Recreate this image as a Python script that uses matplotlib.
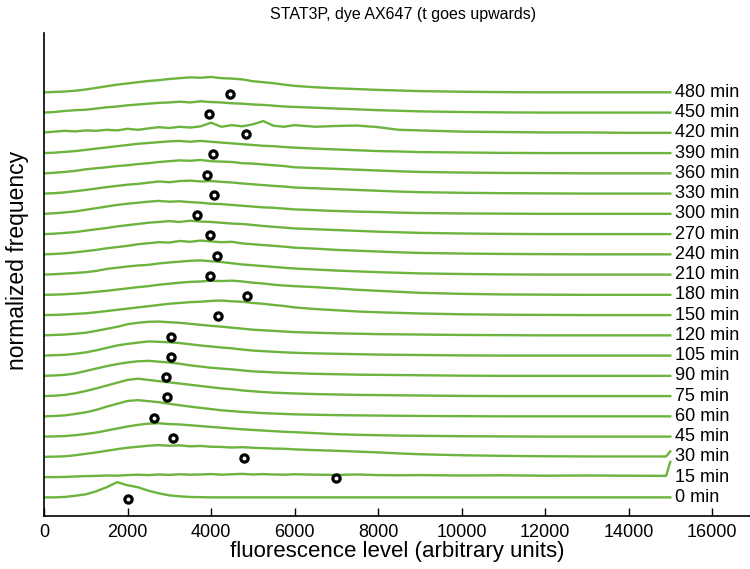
import matplotlib
matplotlib.use("Agg")
import matplotlib.pyplot as plt
import numpy as np

plt.rcParams['font.family'] = ['Liberation Sans', 'DejaVu Sans']

# fluorescence grid (arbitrary units)
x_grid = [0, 250, 500, 750, 1000, 1250, 1500, 1750, 2000, 2250, 2500, 2750, 3000,
          3250, 3500, 3750, 4000, 4250, 4500, 4750, 5000, 5250, 5500, 5750, 6000,
          6500, 7000, 7500, 8000, 8500, 9000, 10000, 11000, 12000, 13000, 14000,
          14900, 15000]

time_labels = ['0 min', '15 min', '30 min', '45 min', '60 min', '75 min', '90 min',
               '105 min', '120 min', '150 min', '180 min', '210 min', '240 min',
               '270 min', '300 min', '330 min', '360 min', '390 min', '420 min',
               '450 min', '480 min']

# mean fluorescence level per time point (black circles)
means = [2000, 7000, 4790, 3090, 2640, 2950, 2920, 3040, 3040, 4170, 4860, 3980,
         4140, 3980, 3660, 4070, 3900, 4050, 4840, 3950, 4450]

h_0 = [0, 0, 0.02, 0.08, 0.15, 0.3, 0.5, 0.75, 0.6, 0.5, 0.33, 0.2, 0.1, 0.05, 0.02,
       0.01, 0, 0, 0, 0, 0, 0, 0, 0, 0, 0, 0, 0, 0, 0, 0, 0, 0, 0, 0, 0, 0, 0]
h_15 = [0, 0, 0.01, 0.03, 0.05, 0.06, 0.08, 0.07, 0.1, 0.12, 0.1, 0.13, 0.11, 0.14,
        0.12, 0.13, 0.15, 0.12, 0.14, 0.16, 0.13, 0.15, 0.13, 0.12, 0.14, 0.12, 0.11,
        0.13, 0.1, 0.09, 0.1, 0.08, 0.09, 0.07, 0.08, 0.07, 0.06, 0.75]
h_30 = [0, 0.01, 0.03, 0.08, 0.15, 0.22, 0.3, 0.38, 0.45, 0.5, 0.55, 0.58, 0.55, 0.57,
        0.52, 0.54, 0.5, 0.49, 0.46, 0.48, 0.45, 0.43, 0.41, 0.4, 0.37, 0.33, 0.3, 0.26,
        0.22, 0.17, 0.13, 0.08, 0.05, 0.03, 0.02, 0.02, 0.02, 0.27]
h_45 = [0, 0.01, 0.03, 0.07, 0.13, 0.2, 0.3, 0.4, 0.5, 0.58, 0.64, 0.66, 0.62, 0.6,
        0.56, 0.52, 0.48, 0.44, 0.4, 0.36, 0.33, 0.3, 0.27, 0.24, 0.22, 0.17, 0.12,
        0.09, 0.07, 0.05, 0.04, 0.02, 0.01, 0, 0, 0, 0, 0]
h_60 = [0, 0.02, 0.05, 0.12, 0.2, 0.32, 0.48, 0.62, 0.76, 0.8, 0.75, 0.7, 0.62, 0.55,
        0.48, 0.42, 0.36, 0.3, 0.26, 0.22, 0.19, 0.16, 0.14, 0.12, 0.1, 0.08, 0.06,
        0.05, 0.04, 0.03, 0.02, 0.01, 0, 0, 0, 0, 0, 0]
h_75 = [0, 0.02, 0.06, 0.14, 0.25, 0.38, 0.52, 0.66, 0.8, 0.86, 0.8, 0.74, 0.68, 0.62,
        0.56, 0.5, 0.44, 0.38, 0.34, 0.28, 0.24, 0.2, 0.17, 0.15, 0.13, 0.1, 0.08, 0.06,
        0.05, 0.04, 0.03, 0.01, 0, 0, 0, 0, 0, 0]
h_90 = [0, 0.02, 0.05, 0.12, 0.24, 0.36, 0.48, 0.58, 0.66, 0.72, 0.74, 0.7, 0.66, 0.6,
        0.52, 0.46, 0.4, 0.36, 0.32, 0.27, 0.22, 0.2, 0.17, 0.15, 0.13, 0.1, 0.08, 0.06,
        0.05, 0.04, 0.03, 0.01, 0, 0, 0, 0, 0, 0]
h_105 = [0, 0.02, 0.04, 0.09, 0.16, 0.26, 0.38, 0.5, 0.58, 0.64, 0.7, 0.68, 0.66, 0.62,
         0.56, 0.5, 0.45, 0.4, 0.36, 0.3, 0.25, 0.22, 0.19, 0.16, 0.14, 0.11, 0.09,
         0.07, 0.05, 0.04, 0.03, 0.01, 0, 0, 0, 0, 0, 0]
h_120 = [0, 0.02, 0.04, 0.08, 0.13, 0.22, 0.32, 0.42, 0.55, 0.62, 0.67, 0.68, 0.65,
         0.62, 0.57, 0.52, 0.47, 0.43, 0.38, 0.33, 0.28, 0.25, 0.22, 0.19, 0.16, 0.13,
         0.1, 0.08, 0.06, 0.05, 0.04, 0.02, 0.01, 0, 0, 0, 0, 0]
h_150 = [0, 0.01, 0.03, 0.06, 0.09, 0.14, 0.2, 0.26, 0.32, 0.38, 0.44, 0.5, 0.56, 0.6,
         0.64, 0.66, 0.7, 0.72, 0.68, 0.66, 0.6, 0.56, 0.5, 0.45, 0.38, 0.3, 0.24, 0.18,
         0.14, 0.11, 0.08, 0.04, 0.02, 0.01, 0, 0, 0, 0]
h_180 = [0, 0.01, 0.03, 0.06, 0.1, 0.15, 0.2, 0.26, 0.32, 0.38, 0.43, 0.5, 0.55, 0.6,
         0.64, 0.66, 0.7, 0.68, 0.7, 0.66, 0.6, 0.56, 0.5, 0.46, 0.43, 0.38, 0.32, 0.25,
         0.2, 0.15, 0.1, 0.05, 0.02, 0.01, 0, 0, 0, 0]
h_210 = [0, 0.02, 0.05, 0.08, 0.12, 0.18, 0.28, 0.34, 0.4, 0.45, 0.48, 0.55, 0.6, 0.64,
         0.68, 0.7, 0.66, 0.62, 0.56, 0.5, 0.46, 0.42, 0.38, 0.34, 0.3, 0.25, 0.2, 0.16,
         0.12, 0.09, 0.06, 0.03, 0.01, 0, 0, 0, 0, 0]
h_240 = [0, 0.02, 0.05, 0.1, 0.16, 0.22, 0.3, 0.36, 0.42, 0.5, 0.55, 0.6, 0.58, 0.66,
         0.62, 0.68, 0.64, 0.6, 0.62, 0.54, 0.5, 0.46, 0.42, 0.38, 0.33, 0.28, 0.22, 0.18,
         0.14, 0.1, 0.07, 0.04, 0.02, 0.01, 0, 0, 0, 0]
h_270 = [0, 0.02, 0.06, 0.1, 0.17, 0.24, 0.3, 0.38, 0.44, 0.5, 0.56, 0.6, 0.64, 0.6,
         0.66, 0.62, 0.6, 0.56, 0.52, 0.5, 0.45, 0.4, 0.36, 0.32, 0.28, 0.24, 0.2, 0.16,
         0.12, 0.09, 0.06, 0.03, 0.01, 0, 0, 0, 0, 0]
h_300 = [0, 0.03, 0.07, 0.12, 0.2, 0.28, 0.36, 0.44, 0.5, 0.55, 0.6, 0.64, 0.6, 0.62,
         0.58, 0.55, 0.5, 0.48, 0.44, 0.4, 0.36, 0.32, 0.3, 0.26, 0.22, 0.18, 0.14, 0.11,
         0.09, 0.06, 0.04, 0.02, 0.01, 0, 0, 0, 0, 0]
h_330 = [0, 0.02, 0.06, 0.12, 0.18, 0.25, 0.32, 0.38, 0.44, 0.48, 0.54, 0.6, 0.56, 0.62,
         0.64, 0.6, 0.62, 0.58, 0.55, 0.5, 0.46, 0.42, 0.38, 0.35, 0.3, 0.26, 0.22, 0.18,
         0.14, 0.1, 0.07, 0.04, 0.02, 0.01, 0, 0, 0, 0]
h_360 = [0, 0.03, 0.07, 0.12, 0.2, 0.25, 0.3, 0.36, 0.4, 0.46, 0.5, 0.56, 0.6, 0.64,
         0.62, 0.66, 0.6, 0.58, 0.56, 0.5, 0.48, 0.44, 0.4, 0.36, 0.3, 0.26, 0.22, 0.18,
         0.14, 0.1, 0.07, 0.04, 0.02, 0.01, 0, 0, 0, 0]
h_390 = [0, 0.02, 0.06, 0.1, 0.16, 0.22, 0.28, 0.34, 0.4, 0.46, 0.5, 0.54, 0.58, 0.6,
         0.56, 0.6, 0.56, 0.52, 0.48, 0.44, 0.4, 0.36, 0.34, 0.3, 0.27, 0.22, 0.18, 0.14,
         0.1, 0.08, 0.05, 0.03, 0.01, 0, 0, 0, 0, 0]
h_420 = [0.02, 0.06, 0.1, 0.07, 0.12, 0.1, 0.15, 0.12, 0.2, 0.15, 0.22, 0.28, 0.24, 0.3,
         0.26, 0.32, 0.5, 0.3, 0.38, 0.32, 0.42, 0.58, 0.35, 0.3, 0.38, 0.3, 0.34, 0.36,
         0.28, 0.15, 0.12, 0.06, 0.04, 0.02, 0.02, 0, 0, 0]
h_450 = [0, 0.03, 0.08, 0.12, 0.14, 0.2, 0.26, 0.3, 0.36, 0.4, 0.44, 0.48, 0.5, 0.54,
         0.5, 0.56, 0.52, 0.5, 0.46, 0.44, 0.4, 0.38, 0.34, 0.3, 0.28, 0.24, 0.2, 0.16,
         0.12, 0.09, 0.06, 0.03, 0.01, 0, 0, 0, 0, 0]
h_480 = [0, 0.02, 0.04, 0.08, 0.14, 0.22, 0.3, 0.38, 0.44, 0.5, 0.56, 0.6, 0.66, 0.7,
         0.74, 0.72, 0.76, 0.7, 0.68, 0.64, 0.55, 0.5, 0.45, 0.38, 0.32, 0.25, 0.2, 0.16,
         0.12, 0.09, 0.06, 0.03, 0.01, 0, 0, 0, 0, 0]

heights = [h_0, h_15, h_30, h_45, h_60, h_75, h_90, h_105, h_120, h_150, h_180, h_210,
           h_240, h_270, h_300, h_330, h_360, h_390, h_420, h_450, h_480]

green = '#6cb43e'

fig = plt.figure(figsize=(7.5, 5.69), dpi=100)
ax = fig.add_axes([44 / 750, 53 / 569, 1 - 44 / 750, (516 - 33) / 569])

xg = np.array(x_grid, dtype=float)
for i, (h, m, lab) in enumerate(zip(heights, means, time_labels)):
    ax.plot(xg, i + np.array(h), color=green, lw=1.7, zorder=2, solid_joinstyle='round')
    ax.plot([m], [i - 0.06], marker='o', ms=5.2, mew=2.3, mec='black', mfc='white',
            zorder=4, linestyle='none')
    ax.text(15120, i, lab, va='center', ha='left', fontsize=13, color='black',
            zorder=5)

ax.set_xlim(0, 16910)
ax.set_ylim(-0.92, 22.93)
ax.set_xticks(range(0, 16001, 2000))
ax.set_xticklabels([str(v) for v in range(0, 16001, 2000)], fontsize=13)
ax.set_yticks([])
ax.tick_params(axis='x', direction='in', length=6, width=1, pad=6)
for s in ['top', 'right']:
    ax.spines[s].set_visible(False)
ax.spines['left'].set_linewidth(1.2)
ax.spines['bottom'].set_linewidth(1.2)
ax.set_xlabel('fluorescence level (arbitrary units)', fontsize=16, labelpad=0)

fig.text(18 / 750, 1 - 260 / 569, 'normalized frequency', rotation=90, fontsize=16.5,
         ha='center', va='center')
fig.text(403 / 750, 1 - 15 / 569, 'STAT3P, dye AX647 (t goes upwards)', fontsize=11.5,
         ha='center', va='center')

fig.savefig('out.png', dpi=100)
